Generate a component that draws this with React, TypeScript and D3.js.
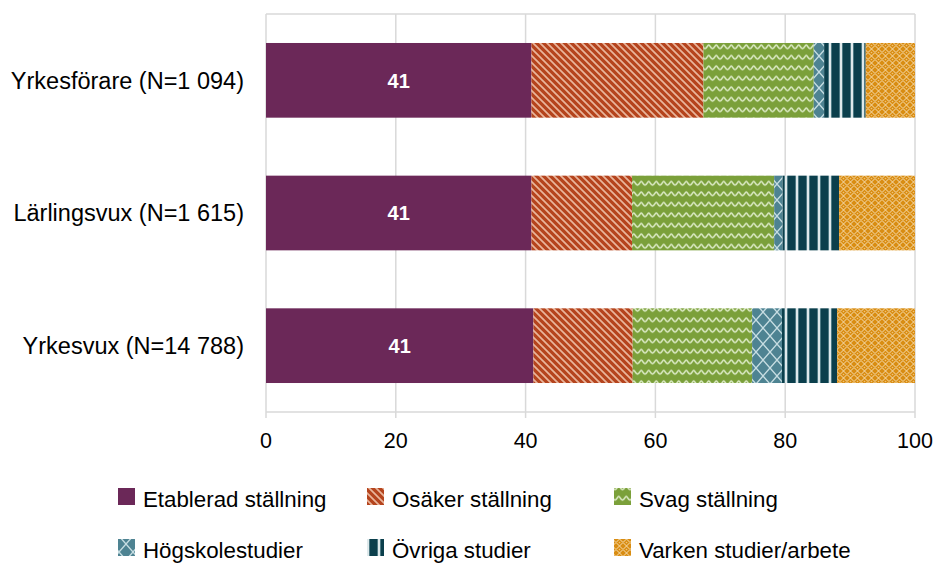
import React from "react";
import * as d3 from "d3";

const categories = ["Yrkesförare (N=1 094)", "Lärlingsvux (N=1 615)", "Yrkesvux (N=14 788)"];
const seriesNames = [
  "Etablerad ställning",
  "Osäker ställning",
  "Svag ställning",
  "Högskolestudier",
  "Övriga studier",
  "Varken studier/arbete",
];
const etablerad = [40.9, 40.9, 41.2];
const osaker = [26.5, 15.5, 15.3];
const svag = [17.0, 21.9, 18.4];
const hogskole = [1.6, 1.3, 4.6];
const ovriga = [6.4, 8.7, 8.5];
const varken = [7.6, 11.7, 12.0];
const xTicks = [0, 20, 40, 60, 80, 100];

const seriesValues = [etablerad, osaker, svag, hogskole, ovriga, varken];
const fills = ["#6b2858", "url(#pOsaker)", "url(#pSvag)", "url(#pHog)", "url(#pOvriga)", "url(#pVarken)"];
const FONT = "'Liberation Sans', Arial, sans-serif";

export default function App() {
  const W = 937, H = 564;
  const x = d3.scaleLinear().domain([0, 100]).range([266, 915]);
  const y = d3.scaleBand<string>().domain(categories).range([14, 412]).paddingInner(0.437).paddingOuter(0.2185);
  const bw = y.bandwidth();

  const stackData = categories.map((c, i) => {
    const row: any = { cat: c };
    seriesNames.forEach((s, j) => (row[s] = seriesValues[j][i]));
    return row;
  });
  const stacked = d3.stack().keys(seriesNames)(stackData as any);

  const legendPos = [
    { sx: 118, tx: 143, y: 488 },
    { sx: 367, tx: 392, y: 488 },
    { sx: 614, tx: 639, y: 488 },
    { sx: 118, tx: 143, y: 539 },
    { sx: 367, tx: 392, y: 539 },
    { sx: 614, tx: 639, y: 539 },
  ];

  return (
    <svg width={W} height={H} style={{ position: "absolute", left: 0, top: 0 }} fontFamily={FONT}>
      <defs>
        <pattern id="pOsaker" width="7" height="7" patternUnits="userSpaceOnUse">
          <rect width="7" height="7" fill="#b5441d" />
          <path d="M-1,-1 L8,8 M-4.5,2.5 L1.5,8.5 M5.5,-1.5 L8.5,1.5" stroke="#e9b59b" strokeWidth="1.7" />
        </pattern>
        <pattern id="pSvag" width="15" height="10.5" patternUnits="userSpaceOnUse">
          <rect width="15" height="10.5" fill="#7ba03a" />
          <path d="M0,6.5 C2,6.5 2.5,3 3.75,3 C5,3 5.5,6.5 7.5,6.5 C9.5,6.5 10,3 11.25,3 C12.5,3 13,6.5 15,6.5" stroke="#dbe9c4" strokeWidth="1.6" fill="none" />
        </pattern>
        <pattern id="pHog" width="14" height="16" patternUnits="userSpaceOnUse">
          <rect width="14" height="16" fill="#4e8392" />
          <path d="M0,0 L14,16 M14,0 L0,16" stroke="#c6dde2" strokeWidth="1.4" />
        </pattern>
        <pattern id="pOvriga" width="11" height="10" patternUnits="userSpaceOnUse">
          <rect width="11" height="10" fill="#0b3f4c" />
          <rect x="3.5" width="3" height="10" fill="#8fb3ba" />
          <rect x="4.2" width="1.6" height="10" fill="#f2f7f8" />
        </pattern>
        <pattern id="pVarken" width="7" height="7" patternUnits="userSpaceOnUse">
          <rect width="7" height="7" fill="#d98d12" />
          <path d="M0,3.5 L3.5,0 L7,3.5 L3.5,7 Z" stroke="#f5dcae" strokeWidth="1" fill="none" />
          <circle cx="3.5" cy="3.5" r="0.8" fill="#f0c27a" />
        </pattern>
      </defs>

      {/* gridlines */}
      {xTicks.map((t) => (
        <line key={"g" + t} x1={x(t)} x2={x(t)} y1={14} y2={418} stroke="#d9d9d9" strokeWidth={1.5} />
      ))}
      <line x1={x(0)} x2={x(100)} y1={14} y2={14} stroke="#d9d9d9" strokeWidth={1.5} />
      <line x1={x(0)} x2={x(100)} y1={412} y2={412} stroke="#d9d9d9" strokeWidth={1.5} />

      {/* bars */}
      {stacked.map((layer, j) => (
        <g key={seriesNames[j]}>
          {layer.map((d, i) => (
            <rect
              key={i}
              x={x(d[0])}
              y={y(categories[i])}
              width={x(d[1]) - x(d[0])}
              height={bw}
              fill={fills[j]}
            />
          ))}
        </g>
      ))}

      {/* value labels */}
      {stacked[0].map((d, i) => (
        <text
          key={"v" + i}
          x={(x(d[0]) + x(d[1])) / 2}
          y={(y(categories[i]) as number) + bw / 2}
          dy="0.36em"
          textAnchor="middle"
          fill="#ffffff"
          fontWeight="bold"
          fontSize={20}
        >
          {Math.round(d[1] - d[0])}
        </text>
      ))}

      {/* y labels */}
      {categories.map((c) => (
        <text key={c} x={244} y={(y(c) as number) + bw / 2} dy="0.36em" textAnchor="end" fontSize={23.5} fill="#000">
          {c}
        </text>
      ))}

      {/* x tick labels */}
      {xTicks.map((t) => (
        <text key={"t" + t} x={x(t)} y={448} textAnchor="middle" fontSize={21.5} fill="#000">
          {t}
        </text>
      ))}

      {/* legend */}
      {seriesNames.map((s, j) => (
        <g key={"l" + s}>
          <rect x={legendPos[j].sx} y={legendPos[j].y} width={17} height={17} fill={fills[j]} />
          <text x={legendPos[j].tx} y={legendPos[j].y + 19} fontSize={22.3} fill="#000">
            {s}
          </text>
        </g>
      ))}
    </svg>
  );
}
